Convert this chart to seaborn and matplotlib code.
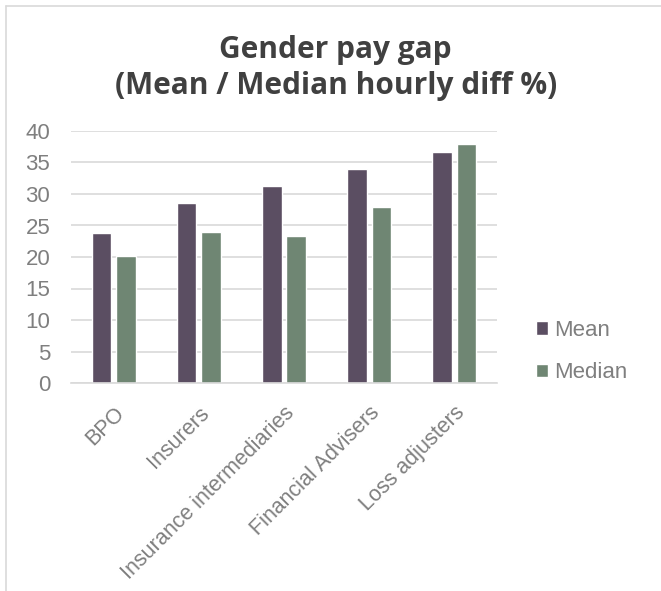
import matplotlib
matplotlib.use("Agg")
import matplotlib.pyplot as plt
from matplotlib.lines import Line2D
import seaborn as sns
import pandas as pd

categories = ["BPO", "Insurers", "Insurance intermediaries", "Financial Advisers", "Loss adjusters"]
mean_values = [23.8, 28.5, 31.2, 34.0, 36.6]
median_values = [20.2, 23.9, 23.3, 27.9, 38.0]
series_names = ["Mean", "Median"]
y_ticks = [0, 5, 10, 15, 20, 25, 30, 35, 40]

df = pd.DataFrame({
    "Sector": categories * 2,
    "Series": [series_names[0]] * len(categories) + [series_names[1]] * len(categories),
    "Value": mean_values + median_values,
})

sns.set_theme(style="white")
plt.rcParams["font.family"] = ["Liberation Sans", "DejaVu Sans"]

fig = plt.figure(figsize=(6.61, 5.91), dpi=100)
ax = fig.add_axes([71 / 661, 1 - 383 / 591, (497 - 71) / 661, (383 - 131) / 591])

palette = {"Mean": "#5b4e62", "Median": "#6f8673"}
sns.barplot(data=df, x="Sector", y="Value", hue="Series", palette=palette,
            width=0.575, gap=0.2, ax=ax, saturation=1, legend=True)

ax.set_ylim(0, 40)
ax.set_yticks(y_ticks)
ax.set_yticklabels([str(t) for t in y_ticks])
ax.yaxis.grid(True, color="#d9d9d9", linewidth=1.2)
ax.set_axisbelow(True)
for side in ["left", "right", "top"]:
    ax.spines[side].set_visible(False)
ax.spines["bottom"].set_color("#d9d9d9")
ax.spines["bottom"].set_linewidth(1.2)
ax.set_xlabel("")
ax.set_ylabel("")
ax.tick_params(axis="y", labelsize=16, colors="#7f7f7f", length=0, pad=15)
ax.tick_params(axis="x", labelsize=15.5, colors="#7f7f7f", length=0, pad=14)
for lbl in ax.get_xticklabels():
    lbl.set_rotation(45)
    lbl.set_ha("right")
    lbl.set_rotation_mode("anchor")

leg = ax.legend(loc="center left", bbox_to_anchor=(1.045, 0.125), frameon=False,
                fontsize=16, handlelength=0.55, handleheight=0.55, handletextpad=0.25,
                labelspacing=0.95, labelcolor="#7f7f7f")

fig.suptitle("Gender pay gap\n(Mean / Median hourly diff %)", x=0.508, y=0.94,
             fontsize=21.5, fontweight="bold", color="#404040",
             family=["Open Sans", "DejaVu Sans"], linespacing=1.25)

fig.add_artist(Line2D([6 / 661, 6 / 661], [0, 1 - 6 / 591], color="#d9d9d9", linewidth=1.2))
fig.add_artist(Line2D([6 / 661, 1], [1 - 6 / 591, 1 - 6 / 591], color="#d9d9d9", linewidth=1.2))

fig.savefig("out.png", dpi=100, facecolor="white")
